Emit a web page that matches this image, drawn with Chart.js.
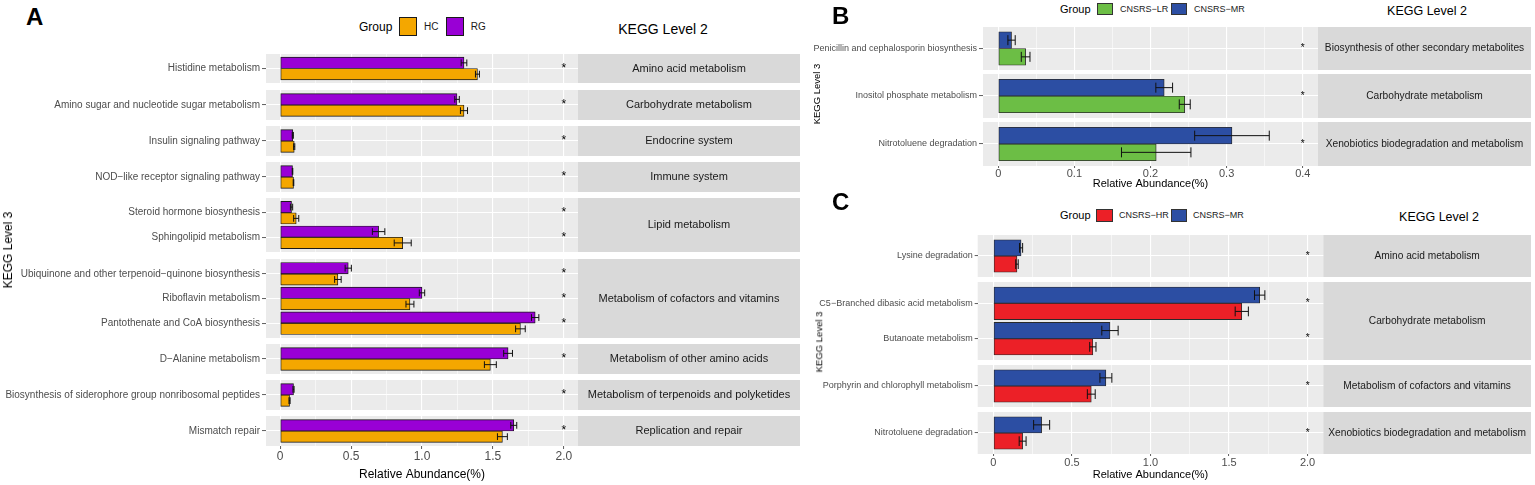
<!DOCTYPE html>
<html lang="en">
<head>
<meta charset="UTF-8">
<title>KEGG pathway relative abundance</title>
<script src="https://cdn.jsdelivr.net/npm/chart.js"></script>
<style>
  body { margin: 0; background: #fff; font-family: "Liberation Sans", Arial, Helvetica, sans-serif; }
  #fig { position: relative; width: 1535px; height: 485px; overflow: hidden; }
  .txt { position: absolute; white-space: nowrap; }
  .key { position: absolute; box-sizing: border-box; }
  .facet { position: absolute; }
</style>
</head>
<body>
<div id="fig"></div>
<script>
const FONT = '"Liberation Sans", Arial, Helvetica, sans-serif';

// ---------- panel A: HC vs RG ----------
const pathwaysA = [
  "Histidine metabolism",
  "Amino sugar and nucleotide sugar metabolism",
  "Insulin signaling pathway",
  "NOD\u2212like receptor signaling pathway",
  "Steroid hormone biosynthesis",
  "Sphingolipid metabolism",
  "Ubiquinone and other terpenoid\u2212quinone biosynthesis",
  "Riboflavin metabolism",
  "Pantothenate and CoA biosynthesis",
  "D\u2212Alanine metabolism",
  "Biosynthesis of siderophore group nonribosomal peptides",
  "Mismatch repair"
];
const level2A = [
  "Amino acid metabolism",
  "Carbohydrate metabolism",
  "Endocrine system",
  "Immune system",
  "Lipid metabolism",
  "Lipid metabolism",
  "Metabolism of cofactors and vitamins",
  "Metabolism of cofactors and vitamins",
  "Metabolism of cofactors and vitamins",
  "Metabolism of other amino acids",
  "Metabolism of terpenoids and polyketides",
  "Replication and repair"
];
const groupsA = ["HC", "RG"];
const colorsA = ["#F4A700", "#9900D5"];
const hcMean = [1.391, 1.296, 0.099, 0.094, 0.113, 0.864, 0.407, 0.915, 1.694, 1.482, 0.066, 1.567];
const hcErr  = [0.014, 0.025, 0.004, 0.002, 0.018, 0.060, 0.023, 0.028, 0.034, 0.042, 0.004, 0.035];
const rgMean = [1.296, 1.247, 0.089, 0.087, 0.080, 0.694, 0.480, 1.000, 1.798, 1.607, 0.094, 1.647];
const rgErr  = [0.020, 0.016, 0.004, 0.002, 0.008, 0.044, 0.022, 0.019, 0.026, 0.031, 0.004, 0.021];
const signifA = ["*", "*", "*", "*", "*", "*", "*", "*", "*", "*", "*", "*"];
const xTicksA = [0, 0.5, 1, 1.5, 2];
const xTickTextA = ["0", "0.5", "1.0", "1.5", "2.0"];
const starXA = 2.0;

// ---------- panel B: CNSRS-LR vs CNSRS-MR ----------
const pathwaysB = [
  "Penicillin and cephalosporin biosynthesis",
  "Inositol phosphate metabolism",
  "Nitrotoluene degradation"
];
const level2B = [
  "Biosynthesis of other secondary metabolites",
  "Carbohydrate metabolism",
  "Xenobiotics biodegradation and metabolism"
];
const groupsB = ["CNSRS\u2212LR", "CNSRS\u2212MR"];
const colorsB = ["#6CBE45", "#2C4EA3"];
const lrMeanB = [0.036, 0.245, 0.2075];
const lrErrB  = [0.0057, 0.0072, 0.0456];
const mrMeanB = [0.0175, 0.218, 0.307];
const mrErrB  = [0.0048, 0.011, 0.049];
const signifB = ["*", "*", "*"];
const xTicksB = [0, 0.1, 0.2, 0.3, 0.4];
const xTickTextB = ["0", "0.1", "0.2", "0.3", "0.4"];
const starXB = 0.4;

// ---------- panel C: CNSRS-HR vs CNSRS-MR ----------
const pathwaysC = [
  "Lysine degradation",
  "C5\u2212Branched dibasic acid metabolism",
  "Butanoate metabolism",
  "Porphyrin and chlorophyll metabolism",
  "Nitrotoluene degradation"
];
const level2C = [
  "Amino acid metabolism",
  "Carbohydrate metabolism",
  "Carbohydrate metabolism",
  "Metabolism of cofactors and vitamins",
  "Xenobiotics biodegradation and metabolism"
];
const groupsC = ["CNSRS\u2212HR", "CNSRS\u2212MR"];
const colorsC = ["#EC2027", "#2C4EA3"];
const hrMeanC = [0.150, 1.581, 0.633, 0.623, 0.186];
const hrErrC  = [0.008, 0.042, 0.020, 0.025, 0.022];
const mrMeanC = [0.176, 1.695, 0.742, 0.716, 0.307];
const mrErrC  = [0.010, 0.033, 0.052, 0.038, 0.051];
const signifC = ["*", "*", "*", "*", "*"];
const xTicksC = [0, 0.5, 1, 1.5, 2];
const xTickTextC = ["0", "0.5", "1.0", "1.5", "2.0"];
const starXC = 2.0;

// ---------- layout per panel ----------
const panels = [
  {
    pathways: pathwaysA, level2: level2A, groups: groupsA, colors: colorsA,
    means: [hcMean, rgMean], errs: [hcErr, rgErr], signif: signifA,
    xTicks: xTicksA, xTickText: xTickTextA, starX: starXA,
    left: 0, plotLeft: 266, plotRight: 578, stripRight: 800,
    top: 54, unit: 24.58, gap: 6.56,
    xMin: -0.1, xMax: 2.1, step: 0.25,
    yFont: 10, yTickLen: 4, yTickPad: 2,
    xFont: 12, xTitleFont: 12, xTickLen: 3, xTickPad: 1.3, axisH: 36,
    stripFont: 11, starFont: 12, edge: "#1a1a1a", edgeW: 0.9,
    letter: { text: "A", x: 26, y: 5 },
    ytitle: { x: 8, y: 250, size: 12 },
    kegg2: { x: 663, y: 29, size: 14 },
    legend: { y: 27, groupX: 359, groupSize: 12, keyX: [399, 445.6], keyTop: 17.2, keyW: 18, keyH: 19,
              textX: [424, 470.7], textSize: 10, keyEdge: "#1a1a1a" }
  },
  {
    pathways: pathwaysB, level2: level2B, groups: groupsB, colors: colorsB,
    means: [lrMeanB, mrMeanB], errs: [lrErrB, mrErrB], signif: signifB,
    xTicks: xTicksB, xTickText: xTickTextB, starX: starXB,
    left: 805, plotLeft: 983, plotRight: 1318, stripRight: 1531,
    top: 26.7, unit: 36.3, gap: 4.2,
    xMin: -0.02, xMax: 0.42, step: 0.05,
    yFont: 9, yTickLen: 4, yTickPad: 2,
    xFont: 11, xTitleFont: 11, xTickLen: 2, xTickPad: 0, axisH: 24.5,
    stripFont: 10.2, starFont: 10, edge: "#2a2a2a", edgeW: 0.9,
    letter: { text: "B", x: 832, y: 3.5 },
    ytitle: { x: 817, y: 94, size: 9.5 },
    kegg2: { x: 1427, y: 11, size: 12.5 },
    legend: { y: 9, groupX: 1060, groupSize: 11, keyX: [1096.7, 1170.7], keyTop: 3, keyW: 16.7, keyH: 12,
              textX: [1120, 1194], textSize: 9, keyEdge: "#333" }
  },
  {
    pathways: pathwaysC, level2: level2C, groups: groupsC, colors: colorsC,
    means: [hrMeanC, mrMeanC], errs: [hrErrC, mrErrC], signif: signifC,
    xTicks: xTicksC, xTickText: xTickTextC, starX: starXC,
    left: 805, plotLeft: 977.7, plotRight: 1323.3, stripRight: 1531,
    top: 235, unit: 35.4, gap: 4.7,
    xMin: -0.1, xMax: 2.1, step: 0.25,
    yFont: 9, yTickLen: 3, yTickPad: 2,
    xFont: 11, xTitleFont: 11, xTickLen: 2, xTickPad: 1, axisH: 27.6,
    stripFont: 10.2, starFont: 10, edge: "#2a2a2a", edgeW: 0.9,
    letter: { text: "C", x: 832, y: 190 },
    ytitle: { x: 819, y: 342, size: 9.5 },
    kegg2: { x: 1439, y: 216.7, size: 12.5 },
    legend: { y: 215, groupX: 1060, groupSize: 11, keyX: [1096, 1170.7], keyTop: 209, keyW: 16.7, keyH: 12.7,
              textX: [1119, 1193], textSize: 9, keyEdge: "#333" }
  }
];

const fig = document.getElementById("fig");
Chart.defaults.font.family = FONT;

function addText(text, x, y, size, opt) {
  opt = opt || {};
  const d = document.createElement("div");
  d.className = "txt";
  d.textContent = text;
  d.style.left = x + "px";
  d.style.top = y + "px";
  d.style.fontSize = size + "px";
  d.style.lineHeight = size + "px";
  d.style.color = opt.color || "#000";
  if (opt.bold) d.style.fontWeight = "bold";
  let tf = opt.center ? "translate(-50%,-50%)" : (opt.noShift ? "" : "translate(0,-50%)");
  if (opt.rot) tf += " rotate(-90deg)";
  d.style.transform = tf;
  fig.appendChild(d);
}

function near(list, v) {
  return list.findIndex(t => Math.abs(t - v) < 1e-6);
}

// background, strip, error bars and significance marks for one facet
const deco = {
  id: "facetDeco",
  beforeDraw(chart, args, o) {
    const { ctx, chartArea: a } = chart;
    ctx.save();
    ctx.fillStyle = "#EBEBEB";
    ctx.fillRect(a.left, a.top, a.right - a.left, a.bottom - a.top);
    ctx.fillStyle = "#D9D9D9";
    ctx.fillRect(a.right, a.top, o.stripW, a.bottom - a.top);
    ctx.fillStyle = "#1A1A1A";
    ctx.font = o.stripFont + "px " + FONT;
    ctx.textAlign = "center";
    ctx.textBaseline = "middle";
    ctx.fillText(o.strip, a.right + o.stripW / 2, (a.top + a.bottom) / 2);
    ctx.restore();
  },
  afterDatasetsDraw(chart, args, o) {
    const { ctx } = chart;
    const xs = chart.scales.x, ys = chart.scales.y;
    ctx.save();
    ctx.strokeStyle = "#111";
    ctx.lineWidth = 1;
    chart.data.datasets.forEach((ds, i) => {
      chart.getDatasetMeta(i).data.forEach((bar, j) => {
        const m = ds.data[j], e = ds.errs[j];
        const x1 = xs.getPixelForValue(m - e), x2 = xs.getPixelForValue(m + e);
        const y = bar.y, hc = bar.height * 0.3;
        ctx.beginPath();
        ctx.moveTo(x1, y); ctx.lineTo(x2, y);
        ctx.moveTo(x1, y - hc); ctx.lineTo(x1, y + hc);
        ctx.moveTo(x2, y - hc); ctx.lineTo(x2, y + hc);
        ctx.stroke();
      });
    });
    ctx.fillStyle = "#000";
    ctx.font = o.starFont + "px " + FONT;
    ctx.textAlign = "center";
    ctx.textBaseline = "middle";
    o.signif.forEach((s, j) => {
      ctx.fillText(s, xs.getPixelForValue(o.starX), ys.getPixelForValue(j));
    });
    ctx.restore();
  }
};

function makeFacet(p, f, y0, h, isLast) {
  const top = Math.round(y0);
  const hh = Math.round(y0 + h) - top;
  const axisH = isLast ? Math.round(p.axisH) : 0;
  const box = document.createElement("div");
  box.className = "facet";
  box.style.left = p.left + "px";
  box.style.top = top + "px";
  box.style.width = (p.stripRight - p.left) + "px";
  box.style.height = (hh + axisH) + "px";
  const cv = document.createElement("canvas");
  box.appendChild(cv);
  fig.appendChild(box);

  // upper bar first: datasets run in reverse legend order
  const order = p.groups.map((g, i) => i).reverse();
  const datasets = order.map(gi => ({
    label: p.groups[gi],
    data: f.idx.map(i => p.means[gi][i]),
    errs: f.idx.map(i => p.errs[gi][i]),
    backgroundColor: p.colors[gi],
    borderColor: p.edge,
    borderWidth: p.edgeW,
    borderSkipped: false,
    barThickness: p.unit * 0.46
  }));

  new Chart(cv, {
    type: "bar",
    data: { labels: f.idx.map(i => p.pathways[i]), datasets },
    options: {
      indexAxis: "y",
      responsive: true,
      maintainAspectRatio: false,
      animation: false,
      layout: { padding: { left: 0, right: p.stripRight - p.plotRight, top: 0, bottom: 0 } },
      plugins: {
        legend: { display: false },
        tooltip: { enabled: false },
        facetDeco: {
          strip: f.name, stripW: p.stripRight - p.plotRight, stripFont: p.stripFont,
          starFont: p.starFont, starX: p.starX, signif: f.idx.map(i => p.signif[i])
        }
      },
      scales: {
        x: {
          type: "linear",
          min: p.xMin, max: p.xMax,
          border: { display: false },
          grid: {
            color: "#FFFFFF",
            lineWidth: c => near(p.xTicks, c.tick.value) >= 0 ? 1.1 : 0.55,
            drawTicks: isLast,
            tickLength: p.xTickLen,
            tickWidth: 0.8,
            tickColor: c => near(p.xTicks, c.tick.value) >= 0 ? "#333333" : "rgba(0,0,0,0)"
          },
          ticks: {
            display: isLast,
            stepSize: p.step,
            autoSkip: false,
            includeBounds: false,
            maxRotation: 0,
            padding: p.xTickPad,
            color: "#4D4D4D",
            font: { size: p.xFont, lineHeight: 1 },
            callback: v => { const k = near(p.xTicks, v); return k >= 0 ? p.xTickText[k] : ""; }
          },
          title: {
            display: isLast, text: "Relative Abundance(%)", color: "#000",
            font: { size: p.xTitleFont }, padding: 0
          },
          afterFit: s => { s.height = axisH; }
        },
        y: {
          type: "category",
          offset: true,
          border: { display: false },
          grid: {
            color: "#FFFFFF", lineWidth: 1.1, offset: false,
            tickLength: p.yTickLen, tickWidth: 0.8, tickColor: "#333333"
          },
          ticks: { color: "#4D4D4D", font: { size: p.yFont }, padding: p.yTickPad, autoSkip: false },
          // discrete axis expanded by 0.6 of a category on both ends
          afterBuildTicks: s => { s._startValue = -0.6; s._valueRange = s.ticks.length + 0.2; },
          afterFit: s => { s.width = p.plotLeft - p.left; s.paddingTop = 0; s.paddingBottom = 0; }
        }
      }
    },
    plugins: [deco]
  });
}

function buildPanel(p) {
  // consecutive rows sharing a level-2 label form one facet
  const facets = [];
  p.level2.forEach((l2, i) => {
    const last = facets[facets.length - 1];
    if (last && last.name === l2) last.idx.push(i);
    else facets.push({ name: l2, idx: [i] });
  });
  let y = p.top;
  facets.forEach((f, k) => {
    const h = (f.idx.length + 0.2) * p.unit;
    makeFacet(p, f, y, h, k === facets.length - 1);
    y += h + p.gap;
  });

  addText(p.letter.text, p.letter.x, p.letter.y, 24, { bold: true, noShift: true });
  addText("KEGG Level 3", p.ytitle.x, p.ytitle.y, p.ytitle.size, { center: true, rot: true });
  addText("KEGG Level 2", p.kegg2.x, p.kegg2.y, p.kegg2.size, { center: true });

  const lg = p.legend;
  addText("Group", lg.groupX, lg.y, lg.groupSize);
  p.groups.forEach((g, i) => {
    const k = document.createElement("div");
    k.className = "key";
    k.style.left = lg.keyX[i] + "px";
    k.style.top = lg.keyTop + "px";
    k.style.width = lg.keyW + "px";
    k.style.height = lg.keyH + "px";
    k.style.background = p.colors[i];
    k.style.border = "1px solid " + lg.keyEdge;
    fig.appendChild(k);
    addText(g, lg.textX[i], lg.y, lg.textSize, { color: "#1A1A1A" });
  });
}

panels.forEach(buildPanel);
</script>
</body>
</html>
